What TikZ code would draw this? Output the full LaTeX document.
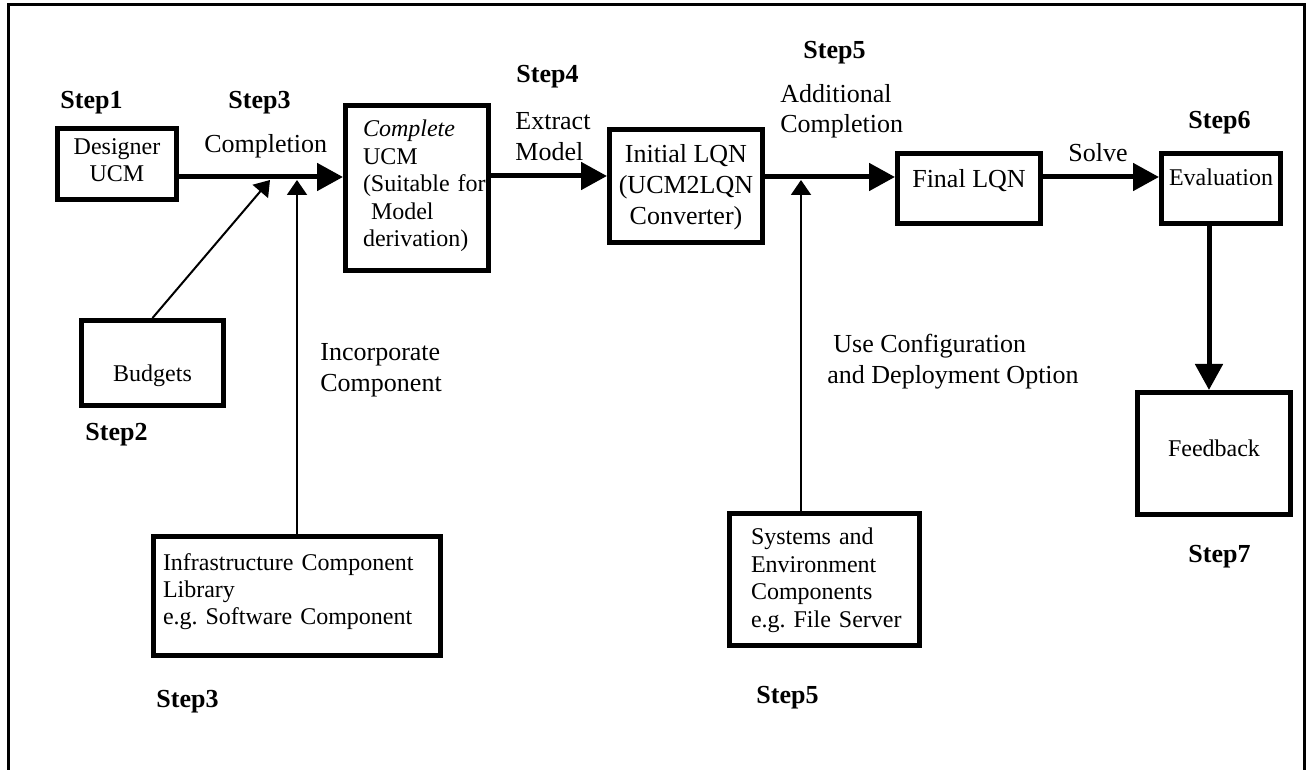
\documentclass[tikz,border=0pt]{standalone}
\usepackage{fontspec}
\setmainfont{Liberation Serif}
\usetikzlibrary{arrows.meta}
\frenchspacing

\begin{document}
\begin{tikzpicture}[x=0.5pt,y=-0.5pt,
  box/.style={draw, line width=2.5pt, rectangle, inner sep=0pt},
  smalltext/.style={font=\fontsize{12}{13.75}\selectfont},
  bigtext/.style={font=\fontsize{13}{15.5}\selectfont},
  lbl/.style={font=\fontsize{13}{15.5}\selectfont, anchor=base west, inner sep=0pt, align=left},
  steplbl/.style={font=\bfseries\fontsize{13}{15.5}\selectfont, anchor=base west, inner sep=0pt},
  flow/.style={line width=2.5pt, -{Triangle[length=13pt,width=13.5pt]}},
  feed/.style={line width=1pt, -{Triangle[length=7.5pt,width=10pt]}},
]
\useasboundingbox (0,0) rectangle (1308,770);

% open frame (left, top, right sides)
\draw[line width=1.5pt] (8,770) -- (8,5) -- (1304,5) -- (1304,770);

% reference lines for the main flow
\coordinate (ax) at (0,177);
\coordinate (vx) at (1209,0);
\coordinate (j1) at (270,180);
\coordinate (j2) at (297,180);
\coordinate (j3) at (801,180);

% boxes: text height/depth place the text baseline
% (last line for centred text, first line for fixed-width text)
\node[box, smalltext, align=center, minimum width=59.5pt, minimum height=35.5pt,
      text height=20pt, text depth=2pt] (designer) at (117,164) {Designer\\UCM};
\node[box, smalltext, align=left, text width=54pt, minimum width=71.5pt, minimum height=82.5pt,
      text height=10pt, text depth=61pt] (complete) at (417,188)
      {\textit{Complete}\\UCM\\(Suitable~for\\\hspace*{4pt}Model\\derivation)};
\node[box, bigtext, align=center, minimum width=76.5pt, minimum height=56.5pt,
      text height=41pt, text depth=2pt] (initial) at (686,186)
      {Initial LQN\\(UCM2LQN\\Converter)};
\node[box, bigtext, minimum width=71.5pt, minimum height=35pt,
      text height=9pt, text depth=9.5pt] (final) at (969,188.5) {Final LQN};
\node[box, smalltext, minimum width=59.5pt, minimum height=35pt,
      text height=8pt, text depth=10.5pt] (eval) at (1221,188.5) {Evaluation};
\node[box, smalltext, minimum width=76.5pt, minimum height=61pt,
      text height=12pt, text depth=8.5pt] (feedback) at (1214,453.5) {Feedback};
\node[box, smalltext, minimum width=71pt, minimum height=42.5pt,
      text height=20pt, text depth=1pt] (budgets) at (152.5,363) {Budgets};
\node[box, smalltext, align=left, text width=134pt, minimum width=143.5pt, minimum height=59.5pt,
      text height=10pt, text depth=36pt] (infra) at (297,596)
      {Infrastructure Component\\Library\\e.g. Software Component};
\node[box, smalltext, align=left, text width=73.5pt, minimum width=95pt, minimum height=66pt,
      text height=10pt, text depth=44.5pt] (systems) at (824.5,579.5)
      {Systems~and\\Environment\\Components\\e.g.~File~Server};

% main flow
\draw[flow] (designer.east |- ax) -- (complete.west |- ax);
\draw[flow] (complete.east |- 0,176) -- (initial.west |- 0,176);
\draw[flow] (initial.east |- ax) -- (final.west |- ax);
\draw[flow] (final.east |- ax) -- (eval.west |- ax);
\draw[flow] (eval.south -| vx) -- (feedback.north -| vx);

% inputs to the flow
\draw[feed] (budgets.north) -- (j1);
\draw[feed] (infra.north) -- (j2);
\draw[feed] (systems.north -| j3) -- (j3);

% connector labels (anchored at the last line's baseline)
\node[lbl] (lcompl) at (204,153) {Completion};
\node[lbl] (lextr) at (515,161) {Extract\\Model};
\node[lbl, font=\fontsize{13}{15}\selectfont] (laddc) at (780,133) {Additional\\Completion};
\node[lbl] (lincc) at (320,392) {Incorporate\\Component};
\node[lbl] (luse) at (827,384) {\hspace*{3pt}Use Configuration\\and Deployment Option};
\node[lbl] (lsolve) at (1068,162) {Solve};

% step labels
\node[steplbl] (s1) at (60,109) {Step1};
\node[steplbl] (s3a) at (228,109) {Step3};
\node[steplbl] (s4) at (516,83) {Step4};
\node[steplbl] (s5a) at (803,59) {Step5};
\node[steplbl] (s6) at (1188,129) {Step6};
\node[steplbl] (s2) at (85,441) {Step2};
\node[steplbl] (s3b) at (156,707) {Step3};
\node[steplbl] (s5b) at (756,703) {Step5};
\node[steplbl] (s7) at (1188,562) {Step7};
\end{tikzpicture}
\end{document}
